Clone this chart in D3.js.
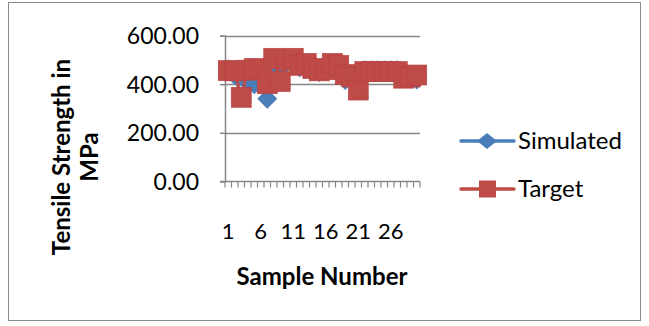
<!DOCTYPE html>
<html>
<head>
<meta charset="utf-8">
<script src="https://cdn.jsdelivr.net/npm/d3@7"></script>
<style>
  html, body { margin: 0; padding: 0; background: #fff; }
  svg { display: block; }
  text { font-family: Lato, "Open Sans", "Liberation Sans", sans-serif; fill: #000; }
</style>
</head>
<body>
<svg id="chart" width="649" height="326"></svg>
<script>
// Sample numbers 1..30
const samples = d3.range(1, 31);
const simulated = [462, 438, 346, 405, 400, 440, 340, 480, 430, 490, 500, 470, 480, 460, 450,
                   455, 470, 465, 417, 430, 440, 458, 458, 458, 458, 458, 458, 440, 430, 420];
const target    = [456, 455, 346, 458, 465, 462, 402, 507, 411, 500, 507, 478, 486, 465, 455,
                   460, 486, 478, 440, 430, 376, 452, 452, 452, 452, 452, 452, 425, 430, 438];
const yTicks = [0, 200, 400, 600];
const xLabels = [1, 6, 11, 16, 21, 26];
const seriesNames = ["Simulated", "Target"];
const seriesColors = ["#4a7ebb", "#be4b48"];

const svg = d3.select("#chart");

// Outer chart frame
svg.append("rect")
  .attr("x", 8.5).attr("y", 2.5).attr("width", 632).attr("height", 318)
  .attr("fill", "none").attr("stroke", "#8c8c8c").attr("stroke-width", 1);

const plot = { left: 225, right: 420, top: 35.7, bottom: 181.3 };

const x = d3.scaleBand().domain(samples).range([plot.left, plot.right]);
const y = d3.scaleLinear().domain([0, 600]).range([plot.bottom, plot.top]);

// Horizontal gridlines
svg.append("g").selectAll("line").data(yTicks.filter(d => d > 0)).join("line")
  .attr("x1", plot.left).attr("x2", plot.right)
  .attr("y1", d => Math.round(y(d)) + 0.5).attr("y2", d => Math.round(y(d)) + 0.5)
  .attr("stroke", "#868686").attr("stroke-width", 1.5);

// Y axis
const yAxis = svg.append("g")
  .attr("transform", `translate(${plot.left},0)`)
  .call(d3.axisLeft(y).tickValues(yTicks).tickFormat(d3.format(".2f")).tickSize(5).tickPadding(21));
yAxis.select(".domain").attr("stroke", "#868686").attr("stroke-width", 1.5);
yAxis.selectAll(".tick line").attr("stroke", "#868686").attr("stroke-width", 1.5);
yAxis.selectAll(".tick text").style("font-size", "23px").attr("fill", "#000").attr("dy", "0.35em");

// X axis with a tick at each category boundary
const xAxisG = svg.append("g").attr("transform", `translate(0,${Math.round(plot.bottom) + 0.5})`);
xAxisG.append("line").attr("x1", plot.left - 5).attr("x2", plot.right)
  .attr("stroke", "#868686").attr("stroke-width", 1.5);
xAxisG.selectAll("line.tk").data(d3.range(0, samples.length + 1)).join("line")
  .attr("class", "tk")
  .attr("x1", i => plot.left + i * x.step()).attr("x2", i => plot.left + i * x.step())
  .attr("y1", 0).attr("y2", 6)
  .attr("stroke", "#868686").attr("stroke-width", 1.2);
xAxisG.selectAll("text").data(xLabels).join("text")
  .attr("x", d => x(d) + x.bandwidth() / 2)
  .attr("y", 57)
  .attr("text-anchor", "middle")
  .style("font-size", "22px")
  .text(d => d);

// Series lines and markers
const line = d3.line().x((d, i) => x(samples[i]) + x.bandwidth() / 2).y(d => y(d));
const diamond = (w, h) => `M0,${-h}L${w},0L0,${h}L${-w},0Z`;

[simulated, target].forEach((vals, k) => {
  const g = svg.append("g");
  g.append("path").datum(vals).attr("d", line)
    .attr("fill", "none").attr("stroke", seriesColors[k]).attr("stroke-width", 3);
  const pts = g.selectAll("g.m").data(vals).join("g")
    .attr("transform", (d, i) => `translate(${x(samples[i]) + x.bandwidth() / 2},${y(d)})`);
  if (k === 0) {
    pts.append("path").attr("d", diamond(10, 10)).attr("fill", seriesColors[0]);
  } else {
    pts.append("rect").attr("x", -10).attr("y", -10).attr("width", 20).attr("height", 20)
      .attr("fill", seriesColors[1]).attr("stroke", "#b7413e").attr("stroke-width", 0.6);
  }
});

// Axis titles
svg.append("text")
  .attr("x", 322).attr("y", 285).attr("text-anchor", "middle")
  .style("font-size", "24px").style("font-weight", "bold")
  .text("Sample Number");

const yt = svg.append("text")
  .attr("transform", "rotate(-90)")
  .attr("text-anchor", "middle")
  .style("font-size", "24px").style("font-weight", "bold");
yt.append("tspan").attr("x", -157).attr("y", 70).text("Tensile Strength in");
yt.append("tspan").attr("x", -157).attr("y", 98).text("MPa");

// Legend
const legend = svg.append("g");
seriesNames.forEach((name, k) => {
  const ly = 141 + k * 48;
  const lg = legend.append("g").attr("transform", `translate(0,${ly})`);
  lg.append("line").attr("x1", 461).attr("x2", 514).attr("y1", 0).attr("y2", 0)
    .attr("stroke", seriesColors[k]).attr("stroke-width", 3.5).attr("stroke-linecap", "round");
  if (k === 0) {
    lg.append("path").attr("d", diamond(10, 8)).attr("transform", "translate(487,0)")
      .attr("fill", seriesColors[0]);
  } else {
    lg.append("rect").attr("x", 479).attr("y", -8.5).attr("width", 17).attr("height", 17)
      .attr("fill", seriesColors[1]);
  }
  lg.append("text").attr("x", 518).attr("y", 8).style("font-size", "24px").text(name);
});
</script>
</body>
</html>
